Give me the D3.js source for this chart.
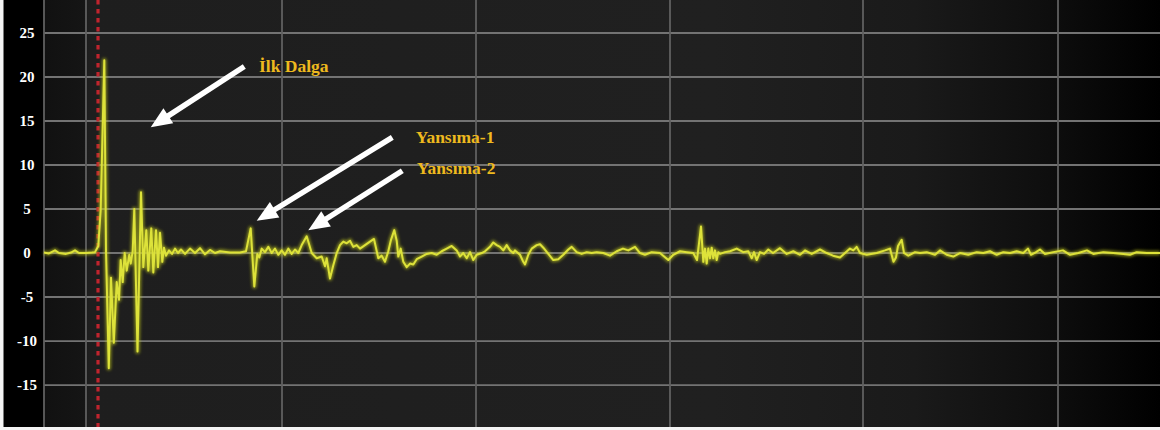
<!DOCTYPE html>
<html><head><meta charset="utf-8">
<script src="https://cdn.jsdelivr.net/npm/d3@7"></script>
<style>html,body{margin:0;padding:0;background:#fff;overflow:hidden}</style>
</head><body><svg id="c" width="1160" height="430"></svg>
<script>
// ---- data ----
const yTicks = [-15, -10, -5, 0, 5, 10, 15, 20, 25];
const yTickLabels = ["-15", "-10", "-5", "0", "5", "10", "15", "20", "25"];
const xGridSamples = [42, 238, 432, 626, 819, 1014];
const triggerSample = 54;
const signalSample = [0,5,11,15,22,27,31,35,42,48,51,54.3,56.7,60.3,62,64.8,67,69.8,72.7,75,76.7,78.7,80.7,82.7,85.3,86.7,88.7,90.3,93.5,97,99.3,102.3,104.3,107.3,109.3,112,114,116,118.3,120,122,125,128,131,134,137,141,146,151,156,161,166,171,176,186,196,202,206.7,210.3,213.3,215.3,217.7,221,224.3,227.7,231,234.3,237.7,241,244.3,247.7,251,254.3,257.7,262.7,267.7,272.7,277.7,281,282.7,286,289.3,292.7,296,299.3,302.7,306,309.3,312.7,316,321,326,330,334.3,337.7,341,344.3,347,350.3,352.7,354.3,356.7,359.3,362.7,366,369.3,372.7,377.7,382.7,387.7,392.7,397.7,402.7,407.7,412.7,416,419.3,422.7,426,429.3,432.7,437.7,441,446,449.3,452.7,456,459.3,462.7,466,469.3,471,476,479.3,481,484.3,487.7,492.7,496,499.3,504.3,509.3,514.3,519.3,524.3,527.7,532.7,537.7,542.7,547.7,552.7,559.3,566,572.7,579,584.3,591,596,601,607.7,616,624.3,629.3,636,642.7,649.3,653,657,659.3,661,662.7,664.3,666,667.7,669.3,671,672.7,674.3,676,681,686,692.7,699.3,704.3,707.7,710,712.7,716,720,724.3,729,736,742.7,749.3,756,761,767.7,776,782.7,789,796,801,806,809.3,812.7,816,822.7,832.7,841,846,849.5,852,854,857.7,860,864.3,871,876,882.7,891,896,902.7,909.3,916,924.3,932.7,939.3,946,952.7,959.3,966,972.7,979.3,984,987,992,996,1001,1009.3,1019,1026,1034.3,1043,1049.3,1059.3,1069.3,1079.3,1086,1092.7,1102.7,1116];
const signalValue = [0.05,-0.05,0.3,0,-0.1,0.05,0.3,0,0,0.05,0.1,0.8,4.9,21.9,0.3,-13.1,-2.8,-10.2,-3.3,-5.3,-0.8,-3.3,0,-2,-0.2,-1.2,0.2,5,-11.2,6.9,-1.6,2.6,-2,2.8,-2.2,2.6,-1.6,2.3,-1,0.6,-0.3,0.3,-0.1,0.5,0,0.4,-0.1,0.5,0,0.55,-0.15,0.35,0,0.2,0.05,0.05,0.2,2.8,-3.8,-0.1,-0.5,0.5,0.1,0.7,0,0.5,-0.2,0.3,-0.2,0.5,-0.1,0.4,0,0.9,1.9,0,-0.6,-0.4,-1.5,-0.6,-2.9,-1.4,0,0.9,1.3,1.1,1.4,0.7,0.9,0.5,0.9,1.3,1.6,-0.6,-0.3,-1,0.2,1.5,2.6,1.4,-0.4,0.5,-1,-1.6,-1.2,-1.3,-0.7,-0.4,-0.1,0,-0.2,0.2,0.5,0.8,0.3,-0.4,0,-0.6,0.1,-0.8,-0.2,0,0.2,0.7,1.2,0.9,0.7,0.3,0.9,0.3,0,0.3,-0.2,-1,-1.3,-0.2,0.5,0.9,1,0.6,-0.1,-0.8,-0.7,-0.2,0.4,0.7,0.1,-0.1,0.1,0,0.1,0,-0.3,0.2,0.5,0.3,0.7,0,-0.2,0.1,0,-0.8,-0.2,0.2,0.1,0,-0.8,3,-1,0.5,-1.2,0.5,-0.6,0.6,-0.6,0.3,-0.8,0.1,-0.1,0.1,0.2,0.5,0.1,0.2,-0.6,0.1,-0.8,0.1,-0.1,0.4,0,0.55,-0.1,0.2,-0.2,0.3,-0.1,0.4,0,-0.3,-0.5,0,0.5,0.3,0.7,0,-0.2,0,0.3,0.5,-1,-0.5,0.8,1.5,0,-0.3,0.1,0,0.1,-0.2,0.3,-0.2,-0.4,0,-0.2,0.1,0,0.2,-0.2,0.1,0,0.2,0,0.5,-0.2,0.1,0.4,-0.1,0.1,0.3,-0.2,0,0.3,-0.1,0.1,0,-0.1,-0.2,0.1,0,0];
const annotationLabels = ["İlk Dalga", "Yansıma-1", "Yansıma-2"];
const annotationTextAt = [[215, 20.6], [371.7, 12.47], [372.7, 8.98]];
const arrowTail = [[200.3, 21.2], [348.3, 13.15], [358.3, 9.35]];
const arrowTip = [[106.7, 14.3], [212.7, 3.67], [264.3, 2.6]];

// ---- layout ----
const W = 1160, H = 430, plotLeft = 44;
const svg = d3.select("#c");
const x = d3.scaleLinear().domain([0, 1116]).range([plotLeft, W]);
const y = d3.scaleLinear().domain([-20.11, 28.75]).range([H, 0]);

const defs = svg.append("defs");
const grad = defs.append("linearGradient").attr("id", "bg").attr("x1", "0").attr("x2", "1").attr("y1", "0").attr("y2", "0");
[[0, "#111"], [0.036, "#151515"], [0.04, "#1e1e1e"], [0.6, "#202020"], [0.78, "#1a1a1a"], [0.9, "#0e0e0e"], [1, "#000"]]
  .forEach(([o, c]) => grad.append("stop").attr("offset", o).attr("stop-color", c));
defs.append("filter").attr("id", "glow").attr("x", "-5%").attr("y", "-20%").attr("width", "110%").attr("height", "140%")
  .append("feGaussianBlur").attr("stdDeviation", 1.6);

// left black panel
svg.append("rect").attr("x", 0).attr("y", 0).attr("width", plotLeft).attr("height", H).attr("fill", "#000");
// plot background
svg.append("rect").attr("x", plotLeft).attr("y", 0).attr("width", W - plotLeft).attr("height", H).attr("fill", "url(#bg)");

// grid
svg.append("g").selectAll("line").data(yTicks).join("line")
  .attr("x1", plotLeft).attr("x2", W).attr("y1", d => y(d)).attr("y2", d => y(d))
  .attr("stroke", "#737373").attr("stroke-width", 1.8);
svg.append("g").selectAll("line").data([0, ...xGridSamples]).join("line")
  .attr("x1", d => x(d)).attr("x2", d => x(d)).attr("y1", 0).attr("y2", H)
  .attr("stroke", "#606060").attr("stroke-width", 1.8);

// y labels
svg.append("g").selectAll("text").data(yTicks).join("text")
  .attr("x", 27).attr("y", d => y(d)).attr("dy", "0.35em")
  .attr("text-anchor", "middle")
  .attr("font-family", "'Liberation Serif', 'Times New Roman', serif")
  .attr("font-weight", "bold").attr("font-size", 15).attr("fill", "#fff")
  .text((d, i) => yTickLabels[i]);

// trigger dotted line
svg.append("line").attr("x1", x(triggerSample)).attr("x2", x(triggerSample)).attr("y1", 0).attr("y2", H)
  .attr("stroke", "#c0242e").attr("stroke-width", 3.2).attr("stroke-dasharray", "4.5,4.5");

// signal
const pts = signalSample.map((s, i) => [s, signalValue[i]]);
const line = d3.line().x(d => x(d[0])).y(d => y(d[1]));
svg.append("path").attr("d", line(pts)).attr("fill", "none")
  .attr("stroke", "#c9d01e").attr("stroke-width", 4.5).attr("opacity", 0.6).attr("filter", "url(#glow)")
  .attr("stroke-linejoin", "round");
svg.append("path").attr("d", line(pts)).attr("fill", "none")
  .attr("stroke", "#dde23a").attr("stroke-width", 2).attr("stroke-linejoin", "round");

// arrows
const headLen = 21, headHalf = 9;
arrowTail.forEach((t, i) => {
  const x0 = x(t[0]), y0 = y(t[1]), x1 = x(arrowTip[i][0]), y1 = y(arrowTip[i][1]);
  const dx = x1 - x0, dy = y1 - y0, L = Math.hypot(dx, dy), ux = dx / L, uy = dy / L;
  const bx = x1 - ux * headLen, by = y1 - uy * headLen;
  svg.append("line").attr("x1", x0).attr("y1", y0).attr("x2", bx + ux * 2).attr("y2", by + uy * 2)
    .attr("stroke", "#fff").attr("stroke-width", 5.5);
  svg.append("polygon").attr("fill", "#fff")
    .attr("points", [[x1, y1], [bx - uy * headHalf, by + ux * headHalf], [bx + uy * headHalf, by - ux * headHalf]].map(p => p.join(",")).join(" "));
});

// annotation labels
svg.append("g").selectAll("text").data(annotationLabels).join("text")
  .attr("x", (d, i) => x(annotationTextAt[i][0])).attr("y", (d, i) => y(annotationTextAt[i][1]))
  .attr("font-family", "'Liberation Serif', 'Times New Roman', serif")
  .attr("font-weight", "bold").attr("font-size", 17.5).attr("fill", "#eeb91e")
  .text(d => d);

// thin light border (left / bottom) as in the reference picture
svg.append("rect").attr("x", 0).attr("y", 0).attr("width", 3.5).attr("height", H).attr("fill", "#f4f4f4");
svg.append("rect").attr("x", 0).attr("y", H - 3).attr("width", W).attr("height", 3).attr("fill", "#f4f4f4");
</script></body></html>
